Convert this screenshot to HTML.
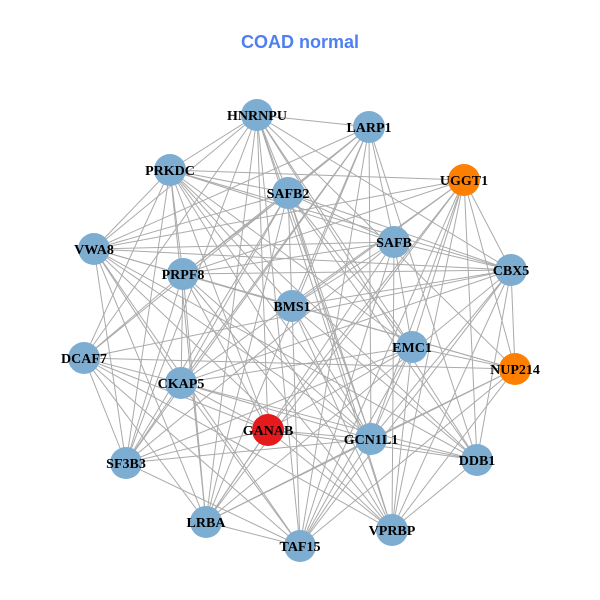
<!DOCTYPE html>
<html><head><meta charset="utf-8"><style>
html,body{margin:0;padding:0;background:#fff;}
svg{display:block}
</style></head><body>
<svg id="g" width="600" height="600" xmlns="http://www.w3.org/2000/svg">
<rect width="600" height="600" fill="#fff"/>
<text x="300" y="48" text-anchor="middle" font-family="Liberation Sans, sans-serif" font-weight="bold" font-size="18" fill="#4f7ff0">COAD normal</text>
<g id="edges" stroke="#aaaaaa" stroke-width="1"></g>
<g id="nodes"></g>
<g id="labels" font-family="Liberation Serif, serif" font-weight="bold" font-size="14" fill="#000" text-anchor="middle"></g>
</svg>
<script>
var N=[["HNRNPU",257,115,"b"],["LARP1",369,127,"b"],["UGGT1",464,180,"o"],["PRKDC",170,170,"b"],["SAFB2",288,193,"b"],["SAFB",394,242,"b"],["CBX5",511,270,"b"],["VWA8",94,249,"b"],["PRPF8",183,274,"b"],["BMS1",292,306,"b"],["EMC1",412,347,"b"],["NUP214",515,369,"o"],["DCAF7",84,358,"b"],["CKAP5",181,383,"b"],["GANAB",268,430,"r"],["GCN1L1",371,439,"b"],["DDB1",477,460,"b"],["SF3B3",126,463,"b"],["LRBA",206,522,"b"],["TAF15",300,546,"b"],["VPRBP",392,530,"b"]];
var ns="http://www.w3.org/2000/svg";
var E=document.getElementById("edges"),ND=document.getElementById("nodes"),L=document.getElementById("labels");
var seed=7;function rnd(){seed=(seed*16807)%2147483647;return seed/2147483647;}
for(var i=0;i<N.length;i++)for(var j=i+1;j<N.length;j++){
 if(rnd()<0.72){var l=document.createElementNS(ns,"line");
 l.setAttribute("x1",N[i][1]);l.setAttribute("y1",N[i][2]);l.setAttribute("x2",N[j][1]);l.setAttribute("y2",N[j][2]);E.appendChild(l);}}
var col={b:"#7eadd2",o:"#ff7f00",r:"#e41a1c"};
N.forEach(function(n){var c=document.createElementNS(ns,"circle");
c.setAttribute("cx",n[1]);c.setAttribute("cy",n[2]);c.setAttribute("r",16);c.setAttribute("fill",col[n[3]]);ND.appendChild(c);
var t=document.createElementNS(ns,"text");t.setAttribute("x",n[1]);t.setAttribute("y",n[2]+5);t.textContent=n[0];L.appendChild(t);});
</script>
</body></html>
